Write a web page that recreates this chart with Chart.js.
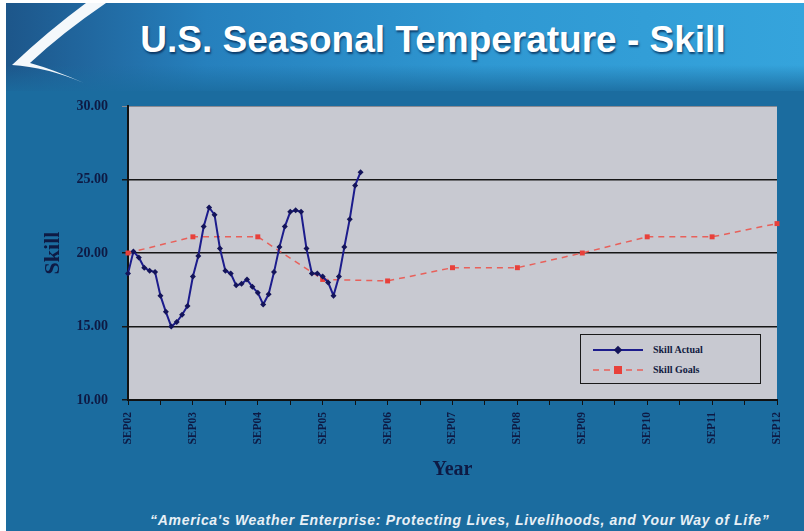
<!DOCTYPE html>
<html lang="en">
<head>
  <meta charset="UTF-8">
  <title>U.S. Seasonal Temperature - Skill</title>
  <script src="https://cdn.jsdelivr.net/npm/chart.js"></script>
  <style>
    html, body { margin: 0; padding: 0; background: #fff; }
    .slide { position: absolute; left: 6px; top: 3px; width: 798px; height: 528px; background: #1b6c9f; overflow: hidden; }
    .banner { position: absolute; left: 0; top: 0; width: 798px; height: 88px;
      background: linear-gradient(to right, #1d568a 0%, #2680bd 25%, #2f98d2 60%, #35a4dc 100%); }
    .banner-low { position: absolute; left: 0; top: 62px; width: 798px; height: 30px;
      background: linear-gradient(to bottom, rgba(27,108,159,0) 0%, #1b6c9f 100%); }
    .title { position: absolute; left: 0; top: 16px; width: 854px; text-align: center;
      font: bold 37px "Liberation Sans", Arial, sans-serif; color: #fff; text-shadow: 1px 2px 2px rgba(0,30,70,0.7); }
    .footer { position: absolute; left: 144px; top: 509px; font: italic bold 14px "Liberation Sans", Arial, sans-serif;
      letter-spacing: 0.7px; color: #e8f0f6; white-space: nowrap; }
    canvas { position: absolute; left: 0; top: 0; }
    .legend { position: absolute; left: 580px; top: 334px; width: 181px; height: 50px; border: 1.5px solid #1a1a1a;
      background: #c8c9d1; box-sizing: border-box; font: bold 10px "Liberation Serif", serif; color: #101a40; }
    .legend .row { position: absolute; left: 12px; display: flex; align-items: center; }
    .legend svg { margin-right: 10px; }
  </style>
</head>
<body>
  <div class="slide">
    <div class="banner"></div>
    <div class="banner-low"></div>
    <svg style="position:absolute;left:0;top:0" width="120" height="92">
      <path d="M 80 0 Q 42 28 6 62 Q 40 64 78 80 Q 46 66 24 60 Q 56 30 100 0 Z" fill="#f4f8fb"/>
    </svg>
    <div class="title">U.S. Seasonal Temperature - Skill</div>
    <div class="footer">“America's Weather Enterprise: Protecting Lives, Livelihoods, and Your Way of Life”</div>
  </div>
  <canvas id="skillChart" width="804" height="531"></canvas>
  <div class="legend">
    <div class="row" style="top:9px">
      <svg width="50" height="10"><line x1="0" y1="5" x2="50" y2="5" stroke="#1c1c8c" stroke-width="2"/><rect x="22" y="2" width="6" height="6" fill="#14145a" transform="rotate(45 25 5)"/></svg>
      <span>Skill Actual</span>
    </div>
    <div class="row" style="top:29px">
      <svg width="50" height="10"><line x1="0" y1="5" x2="50" y2="5" stroke="#e8605a" stroke-width="1.5" stroke-dasharray="6,5"/><rect x="21" y="1" width="8" height="8" fill="#e8403a"/></svg>
      <span>Skill Goals</span>
    </div>
  </div>
  <script>
    // Year tick labels (one per September)
    const yearLabels = ['SEP02', 'SEP03', 'SEP04', 'SEP05', 'SEP06', 'SEP07', 'SEP08', 'SEP09', 'SEP10', 'SEP11', 'SEP12'];

    // Monthly actual skill, starting Sep 2002
    const skillActual = [18.6, 20.1, 19.7, 19.0, 18.8, 18.7, 17.1, 16.0, 15.0, 15.3, 15.8, 16.4,
                         18.4, 19.8, 21.8, 23.1, 22.6, 20.3, 18.8, 18.6, 17.8, 17.9, 18.2, 17.7,
                         17.3, 16.5, 17.2, 18.7, 20.4, 21.8, 22.8, 22.9, 22.8, 20.3, 18.6, 18.6,
                         18.4, 18.0, 17.1, 18.4, 20.4, 22.3, 24.6, 25.5];

    // Yearly skill goals (one per September)
    const skillGoals = [20.0, 21.1, 21.1, 18.2, 18.1, 19.0, 19.0, 20.0, 21.1, 21.1, 22.0];

    const monthsPerYear = 12;
    const monthLabels = [];
    const goalsMonthly = [];
    for (let i = 0; i <= (yearLabels.length - 1) * monthsPerYear; i++) {
      monthLabels.push(i % monthsPerYear === 0 ? yearLabels[i / monthsPerYear] : '');
      goalsMonthly.push(i % monthsPerYear === 0 ? skillGoals[i / monthsPerYear] : null);
    }

    const inkColor = '#0e1a44';

    // Gray plot background
    const plotBg = {
      id: 'plotBg',
      beforeDraw(chart) {
        const { ctx, chartArea: a } = chart;
        ctx.save();
        ctx.fillStyle = '#c8c9d1';
        ctx.fillRect(a.left, a.top, a.right - a.left, a.bottom - a.top);
        ctx.restore();
      }
    };

    const ctx = document.getElementById('skillChart').getContext('2d');
    new Chart(ctx, {
      type: 'line',
      data: {
        labels: monthLabels,
        datasets: [{
          label: 'Skill Actual',
          data: skillActual,
          borderColor: '#1c1c8c',
          backgroundColor: '#14145a',
          borderWidth: 2,
          pointStyle: 'rectRot',
          pointRadius: 3,
          pointBorderWidth: 0,
          tension: 0
        }, {
          label: 'Skill Goals',
          data: goalsMonthly,
          spanGaps: true,
          borderColor: '#e8605a',
          backgroundColor: '#e8403a',
          borderWidth: 1.5,
          borderDash: [6, 5],
          pointStyle: 'rect',
          pointRadius: 3.5,
          pointBorderWidth: 0
        }]
      },
      options: {
        responsive: false,
        animation: false,
        layout: { padding: { left: 40, right: 27, top: 106, bottom: 49 } },
        plugins: { legend: { display: false }, tooltip: { enabled: false } },
        scales: {
          x: {
            offset: false,
            grid: { drawOnChartArea: false, color: '#111', tickLength: 5, lineWidth: 1 },
            border: { color: '#111', width: 2 },
            ticks: {
              autoSkip: false, maxRotation: 90, minRotation: 90, padding: 7,
              color: inkColor, font: { family: '"Liberation Serif", serif', size: 11.5, weight: 'bold' },
              callback: function (value, index) {
                if (index % monthsPerYear === 0) return this.getLabelForValue(value);
                if (index % (monthsPerYear / 2) === 0) return '';
                return null;
              }
            },
            title: { display: true, text: 'Year', color: inkColor, padding: { top: 6, bottom: 0 },
                     font: { family: '"Liberation Serif", serif', size: 20, weight: 'bold' } },
            afterFit(scale) { scale.height = 82; }
          },
          y: {
            min: 10, max: 30,
            grid: {
              color: (c) => c.tick.value === 30 ? '#8a8a92' : '#161616',
              lineWidth: (c) => c.tick.value === 30 ? 1 : 1.5,
              tickLength: 6
            },
            border: { color: '#111', width: 2 },
            ticks: {
              stepSize: 5, padding: 14, color: inkColor,
              font: { family: '"Liberation Serif", serif', size: 14, weight: 'bold' },
              callback: (v) => v.toFixed(2)
            },
            title: { display: true, text: 'Skill', color: inkColor, padding: 0,
                     font: { family: '"Liberation Serif", serif', size: 22, weight: 'bold' } },
            afterFit(scale) { scale.width = 88; }
          }
        }
      },
      plugins: [plotBg]
    });
  </script>
</body>
</html>
